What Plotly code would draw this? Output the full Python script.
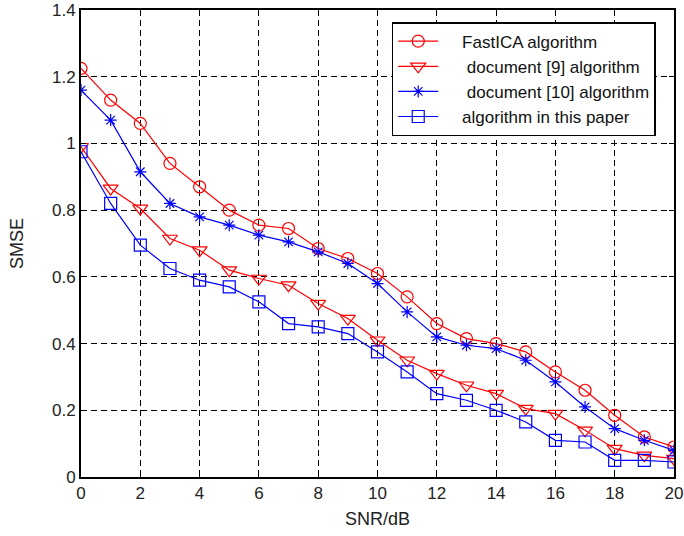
import plotly.graph_objects as go

snr = list(range(0, 21))
fastica = [1.225, 1.13, 1.06, 0.94, 0.87, 0.80, 0.755, 0.745, 0.685, 0.655, 0.61,
           0.54, 0.46, 0.415, 0.40, 0.375, 0.315, 0.26, 0.185, 0.12, 0.09]
doc9 = [0.99, 0.865, 0.805, 0.715, 0.68, 0.62, 0.595, 0.575, 0.52, 0.475, 0.41,
        0.35, 0.31, 0.275, 0.25, 0.205, 0.19, 0.14, 0.085, 0.065, 0.055]
doc10 = [1.16, 1.07, 0.915, 0.82, 0.78, 0.755, 0.725, 0.705, 0.675, 0.64, 0.58,
         0.495, 0.42, 0.395, 0.385, 0.35, 0.285, 0.21, 0.145, 0.11, 0.08]
ours = [0.975, 0.82, 0.695, 0.625, 0.59, 0.57, 0.525, 0.46, 0.45, 0.43, 0.375,
        0.315, 0.25, 0.23, 0.20, 0.165, 0.11, 0.105, 0.05, 0.05, 0.045]

names = ["FastICA algorithm", " document [9] algorithm", " document [10] algorithm",
         "algorithm in this paper"]
series = [fastica, doc9, doc10, ours]
colors = ["#ff0000", "#ff0000", "#0000ff", "#0000ff"]
symbols = ["circle-open", "triangle-down-open", "asterisk-open", "square-open"]
sizes = [12, 13, 10, 12]

FONT = "Liberation Sans, Arial"
PAD = "    "

fig = go.Figure()
for n, s, c, sym, sz in zip(names, series, colors, symbols, sizes):
    fig.add_trace(go.Scatter(
        x=snr, y=s, name=PAD + n, mode="lines+markers",
        line=dict(color=c, width=1.2),
        marker=dict(symbol=sym, size=sz, color=c, line=dict(color=c, width=1.2)),
    ))

axis_common = dict(
    showline=True, linecolor="black", linewidth=1.8, mirror="ticks",
    ticks="inside", ticklen=5, tickcolor="black",
    showgrid=True, gridcolor="black", griddash="6px,4px", gridwidth=1,
    zeroline=False, automargin=False,
    tickfont=dict(family=FONT, size=17, color="#222"),
)

fig.update_xaxes(range=[0, 20], dtick=2, tick0=0,
                 title=dict(text="SNR/dB", font=dict(family=FONT, size=18, color="#222"), standoff=10),
                 **axis_common)
fig.update_yaxes(range=[0, 1.4], dtick=0.2, tick0=0,
                 title=dict(text="SMSE", font=dict(family=FONT, size=18, color="#222"), standoff=24),
                 **axis_common)

fig.update_layout(
    width=684, height=536,
    margin=dict(l=81, r=10, t=10, b=59),
    plot_bgcolor="white", paper_bgcolor="white",
    legend=dict(x=0.524, y=0.974, xanchor="left", yanchor="top",
                bgcolor="white", bordercolor="black", borderwidth=1.5,
                font=dict(family=FONT, size=17, color="#111"),
                tracegroupgap=0, itemwidth=40),
    showlegend=True,
)

fig.write_html("out.html", config={"displayModeBar": False},
               post_script="document.body.style.margin='0px';document.body.style.overflow='hidden';")
